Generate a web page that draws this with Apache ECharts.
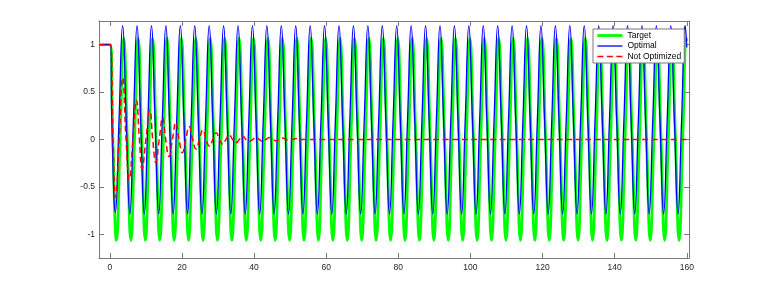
<!DOCTYPE html>
<html><head><meta charset="utf-8">
<script src="https://cdn.jsdelivr.net/npm/echarts@6/dist/echarts.min.js"></script>
<style>html,body{margin:0;padding:0;background:#fff}#c{width:763px;height:291px}</style>
</head><body><div id="c"></div>
<script>
const xTicks = [0, 20, 40, 60, 80, 100, 120, 140, 160];
const yTicks = [-1, -0.5, 0, 0.5, 1];
const seriesNames = ['Target', 'Optimal', 'Not Optimized'];

const targetT = [-3, -0.2, 0.2,
0.85,1.85,2.85,3.85,4.85,5.85,6.85,7.85,8.85,9.85,10.85,11.85,12.85,13.85,14.85,15.85,16.85,17.85,18.85,19.85,
20.85,21.85,22.85,23.85,24.85,25.85,26.85,27.85,28.85,29.85,30.85,31.85,32.85,33.85,34.85,35.85,36.85,37.85,38.85,39.85,
40.85,41.85,42.85,43.85,44.85,45.85,46.85,47.85,48.85,49.85,50.85,51.85,52.85,53.85,54.85,55.85,56.85,57.85,58.85,59.85,
60.85,61.85,62.85,63.85,64.85,65.85,66.85,67.85,68.85,69.85,70.85,71.85,72.85,73.85,74.85,75.85,76.85,77.85,78.85,79.85,
80.85,81.85,82.85,83.85,84.85,85.85,86.85,87.85,88.85,89.85,90.85,91.85,92.85,93.85,94.85,95.85,96.85,97.85,98.85,99.85,
100.85,101.85,102.85,103.85,104.85,105.85,106.85,107.85,108.85,109.85,110.85,111.85,112.85,113.85,114.85,115.85,116.85,117.85,118.85,119.85,
120.85,121.85,122.85,123.85,124.85,125.85,126.85,127.85,128.85,129.85,130.85,131.85,132.85,133.85,134.85,135.85,136.85,137.85,138.85,139.85,
140.85,141.85,142.85,143.85,144.85,145.85,146.85,147.85,148.85,149.85,150.85,151.85,152.85,153.85,154.85,155.85,156.85,157.85,158.85,159.85,
160];
const targetY = [1, 1, 1,
0,-1.065,0,1.07, 0,-1.065,0,1.07, 0,-1.065,0,1.07, 0,-1.065,0,1.07, 0,-1.065,0,1.07,
0,-1.065,0,1.07, 0,-1.065,0,1.07, 0,-1.065,0,1.07, 0,-1.065,0,1.07, 0,-1.065,0,1.07,
0,-1.065,0,1.07, 0,-1.065,0,1.07, 0,-1.065,0,1.07, 0,-1.065,0,1.07, 0,-1.065,0,1.07,
0,-1.065,0,1.07, 0,-1.065,0,1.07, 0,-1.065,0,1.07, 0,-1.065,0,1.07, 0,-1.065,0,1.07,
0,-1.065,0,1.07, 0,-1.065,0,1.07, 0,-1.065,0,1.07, 0,-1.065,0,1.07, 0,-1.065,0,1.07,
0,-1.065,0,1.07, 0,-1.065,0,1.07, 0,-1.065,0,1.07, 0,-1.065,0,1.07, 0,-1.065,0,1.07,
0,-1.065,0,1.07, 0,-1.065,0,1.07, 0,-1.065,0,1.07, 0,-1.065,0,1.07, 0,-1.065,0,1.07,
0,-1.065,0,1.07, 0,-1.065,0,1.07, 0,-1.065,0,1.07, 0,-1.065,0,1.07, 0,-1.065,0,1.07,
1.04];

const optimalT = [-3, -0.2, 0.2,
0.55,1.55,2.55,3.55,4.55,5.55,6.55,7.55,8.55,9.55,10.55,11.55,12.55,13.55,14.55,15.55,16.55,17.55,18.55,19.55,
20.55,21.55,22.55,23.55,24.55,25.55,26.55,27.55,28.55,29.55,30.55,31.55,32.55,33.55,34.55,35.55,36.55,37.55,38.55,39.55,
40.55,41.55,42.55,43.55,44.55,45.55,46.55,47.55,48.55,49.55,50.55,51.55,52.55,53.55,54.55,55.55,56.55,57.55,58.55,59.55,
60.55,61.55,62.55,63.55,64.55,65.55,66.55,67.55,68.55,69.55,70.55,71.55,72.55,73.55,74.55,75.55,76.55,77.55,78.55,79.55,
80.55,81.55,82.55,83.55,84.55,85.55,86.55,87.55,88.55,89.55,90.55,91.55,92.55,93.55,94.55,95.55,96.55,97.55,98.55,99.55,
100.55,101.55,102.55,103.55,104.55,105.55,106.55,107.55,108.55,109.55,110.55,111.55,112.55,113.55,114.55,115.55,116.55,117.55,118.55,119.55,
120.55,121.55,122.55,123.55,124.55,125.55,126.55,127.55,128.55,129.55,130.55,131.55,132.55,133.55,134.55,135.55,136.55,137.55,138.55,139.55,
140.55,141.55,142.55,143.55,144.55,145.55,146.55,147.55,148.55,149.55,150.55,151.55,152.55,153.55,154.55,155.55,156.55,157.55,158.55,159.55,
160];
const optimalY = [1, 1, 1,
0.205,-0.77,0.205,1.2, 0.205,-0.785,0.205,1.2, 0.205,-0.785,0.205,1.2, 0.205,-0.785,0.205,1.2, 0.205,-0.785,0.205,1.2,
0.205,-0.785,0.205,1.2, 0.205,-0.785,0.205,1.2, 0.205,-0.785,0.205,1.2, 0.205,-0.785,0.205,1.2, 0.205,-0.785,0.205,1.2,
0.205,-0.785,0.205,1.2, 0.205,-0.785,0.205,1.2, 0.205,-0.785,0.205,1.2, 0.205,-0.785,0.205,1.2, 0.205,-0.785,0.205,1.2,
0.205,-0.785,0.205,1.2, 0.205,-0.785,0.205,1.2, 0.205,-0.785,0.205,1.2, 0.205,-0.785,0.205,1.2, 0.205,-0.785,0.205,1.2,
0.205,-0.785,0.205,1.2, 0.205,-0.785,0.205,1.2, 0.205,-0.785,0.205,1.2, 0.205,-0.785,0.205,1.2, 0.205,-0.785,0.205,1.2,
0.205,-0.785,0.205,1.2, 0.205,-0.785,0.205,1.2, 0.205,-0.785,0.205,1.2, 0.205,-0.785,0.205,1.2, 0.205,-0.785,0.205,1.2,
0.205,-0.785,0.205,1.2, 0.205,-0.785,0.205,1.2, 0.205,-0.785,0.205,1.2, 0.205,-0.785,0.205,1.2, 0.205,-0.785,0.205,1.2,
0.205,-0.785,0.205,1.2, 0.205,-0.785,0.205,1.2, 0.205,-0.785,0.205,1.2, 0.205,-0.785,0.205,1.2, 0.205,-0.785,0.205,1.2,
0.97];

const notOptT = [-3, -0.2, 0.2, 0.9, 1.6, 2.6, 3.55, 4.5, 5.4, 6.4, 7.4,
8.2, 8.95, 10.0, 11.1, 11.9, 12.75, 13.7, 14.65, 15.5, 16.4,
17.35, 18.3, 19.2, 20.1, 21.05, 22.0, 22.95, 23.9, 24.85, 25.8,
26.7, 27.6, 28.55, 29.5, 30.4, 31.3, 32.2, 33.1, 34.05, 35.0,
35.9, 36.8, 37.75, 38.7, 39.6, 40.5, 41.45, 42.4, 43.3, 44.2,
45.15, 46.1, 47.0, 47.9, 48.85, 49.8, 50.7, 51.6, 52.5, 160];
const notOptY = [1, 1, 1, 0, -0.61, 0, 0.65, 0, -0.42, 0, 0.415,
0, -0.31, 0, 0.31, 0, -0.24, 0, 0.23, 0, -0.18,
0, 0.18, 0, -0.14, 0, 0.136, 0, -0.10, 0, 0.10,
0, -0.07, 0, 0.07, 0, -0.05, 0, 0.05, 0, -0.035,
0, 0.04, 0, -0.02, 0, 0.025, 0, -0.02, 0, 0.02,
0, -0.015, 0, 0.015, 0, -0.01, 0, 0.01, 0, 0];

function pairs(t, y) { return t.map(function (v, i) { return [v, y[i]]; }); }

const chart = echarts.init(document.getElementById('c'), null, {renderer: 'canvas'});
const axisColor = '#7a7a7a';
const labelFont = {fontFamily: 'Liberation Sans, Arial, sans-serif', fontSize: 8.5, color: '#262626'};

function xAxisDef(pos, showLabel) {
  return {
    type: 'value', position: pos, min: -3, max: 160.6,
    axisLine: {show: true, onZero: false, lineStyle: {color: axisColor, width: 1}},
    axisTick: {show: true, inside: true, length: 5, customValues: xTicks, lineStyle: {color: axisColor}},
    axisLabel: Object.assign({show: showLabel, customValues: xTicks, margin: 5}, labelFont),
    splitLine: {show: false}
  };
}
function yAxisDef(pos, showLabel) {
  return {
    type: 'value', position: pos, min: -1.25, max: 1.25,
    axisLine: {show: true, onZero: false, lineStyle: {color: axisColor, width: 1}},
    axisTick: {show: true, inside: true, length: 5, customValues: yTicks, lineStyle: {color: axisColor}},
    axisLabel: Object.assign({show: showLabel, customValues: yTicks, margin: 4}, labelFont),
    splitLine: {show: false}
  };
}

chart.setOption({
  animation: false,
  backgroundColor: '#fff',
  grid: {left: 99, right: 74, top: 21, bottom: 33, containLabel: false},
  xAxis: [xAxisDef('bottom', true), xAxisDef('top', false)],
  yAxis: [yAxisDef('left', true), yAxisDef('right', false)],
  legend: {
    orient: 'vertical', left: 593, top: 29,
    padding: [2, 3, 2, 3], itemGap: 1.5, itemWidth: 25, itemHeight: 10,
    backgroundColor: '#fff', borderColor: '#7a7a7a', borderWidth: 1, borderRadius: 0,
    itemStyle: {opacity: 0},
    lineStyle: {width: 'inherit'},
    textStyle: {fontFamily: 'Liberation Sans, Arial, sans-serif', fontSize: 8.5, color: '#000'},
    data: seriesNames
  },
  series: [
    {name: seriesNames[0], type: 'line', xAxisIndex: 0, yAxisIndex: 0, data: pairs(targetT, targetY),
     symbol: 'none', showSymbol: false, smooth: 0.5, color: '#00ff00',
     lineStyle: {color: '#00ff00', width: 2.8}},
    {name: seriesNames[1], type: 'line', xAxisIndex: 0, yAxisIndex: 0, data: pairs(optimalT, optimalY),
     symbol: 'none', showSymbol: false, smooth: 0.5, color: '#0000ff',
     lineStyle: {color: '#0000ff', width: 1.3}},
    {name: seriesNames[2], type: 'line', xAxisIndex: 0, yAxisIndex: 0, data: pairs(notOptT, notOptY),
     symbol: 'none', showSymbol: false, smooth: 0.5, color: '#ff0000',
     lineStyle: {color: '#ff0000', width: 1.5, type: [6, 3.5]}}
  ]
});
</script>
</body></html>
